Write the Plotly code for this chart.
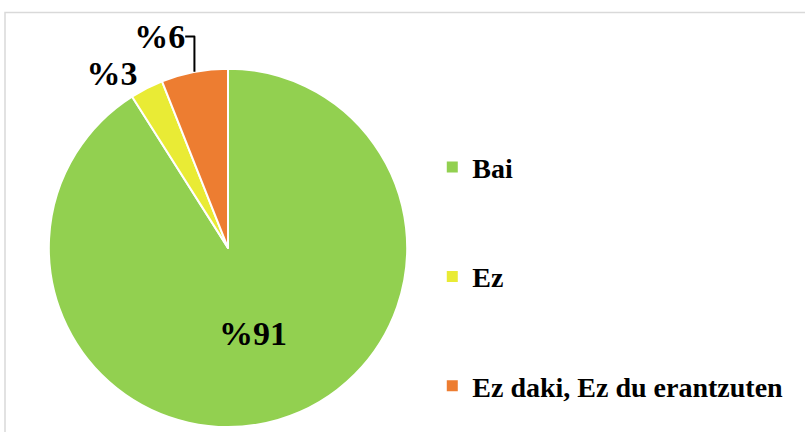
import plotly.graph_objects as go

labels = ["Bai", "Ez", "Ez daki, Ez du erantzuten"]
values = [91, 3, 6]
text_labels = ["%91", "%3", "%6"]
colors = ["#92D050", "#E9EB35", "#ED7D31"]

FONT = "Liberation Serif"

fig = go.Figure()
fig.add_trace(go.Pie(
    labels=labels, values=values, text=text_labels,
    textinfo="text", sort=False, direction="clockwise", rotation=0,
    marker=dict(colors=colors, line=dict(color="white", width=2)),
    textposition=["inside", "outside", "outside"],
    textfont=dict(family=FONT, size=34, color="black", weight="bold"),
    insidetextorientation="horizontal",
    showlegend=False,
    domain=dict(x=[48/805, 408/805], y=[3/432, 363/432]),
))

for lab, col in zip(labels, colors):
    fig.add_trace(go.Scatter(
        x=[None], y=[None], mode="markers", name=lab, legendgroup=lab,
        marker=dict(symbol="square", size=11, color=col),
    ))

fig.update_layout(
    width=805, height=432,
    margin=dict(l=0, r=0, t=0, b=0),
    paper_bgcolor="white", plot_bgcolor="white",
    xaxis=dict(visible=False), yaxis=dict(visible=False),
    legend=dict(x=0.537, y=0.669, xanchor="left", yanchor="top",
                font=dict(family=FONT, size=28, color="black", weight="bold"),
                tracegroupgap=70, bgcolor="rgba(0,0,0,0)"),
    shapes=[dict(type="rect", xref="paper", yref="paper",
                 x0=5/805, x1=1.05, y0=-0.05, y1=(432-12.5)/432,
                 line=dict(color="#D9D9D9", width=1.5), fillcolor="rgba(0,0,0,0)",
                 layer="below")],
)

fig.write_html("out.html",
               config={"displayModeBar": False},
               post_script="document.body.style.margin='0';document.body.style.overflow='hidden';")
